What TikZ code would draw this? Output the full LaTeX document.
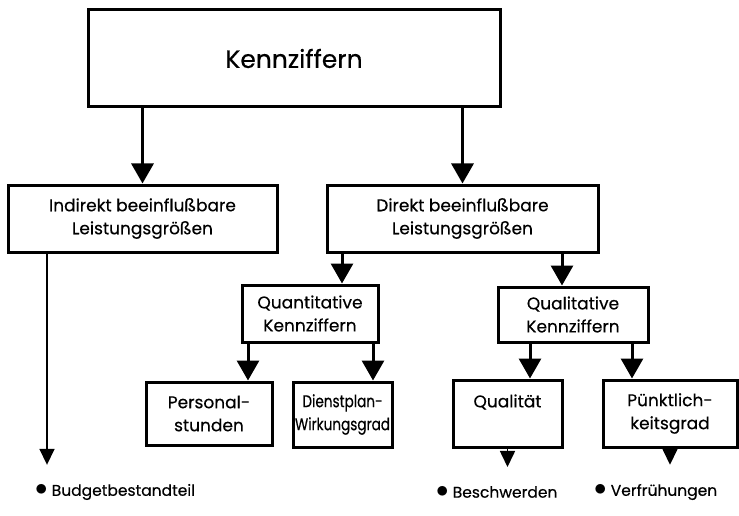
\documentclass[tikz,border=0pt]{standalone}
\usepackage{fontspec}
\setmainfont{Poppins}[FakeBold=0.4]
\usepackage{tikz}
\usetikzlibrary{arrows,arrows.meta,shapes,backgrounds}

\begin{document}
\begin{tikzpicture}[x=1pt,y=-1pt,
	kbox/.style={rectangle, draw=black, line width=3pt, text centered, align=center,
		inner sep=0pt, font=\fontsize{17}{23}\selectfont},
	bigarrow/.style={-{Triangle[width=22pt,length=20pt]}, line width=3pt},
	thinarrow/.style={-{Triangle[width=15pt,length=16pt]}, line width=1.6pt},
	item/.style={anchor=west, inner sep=0pt, font=\fontsize{15.5}{20}\selectfont}]

\useasboundingbox (0,0) rectangle (739,516);

%  top level
\node [kbox, minimum width=412pt, minimum height=97pt,
                        font=\fontsize{25}{30}\selectfont] (kenn) at (294,58.5) {Kennziffern};
\node [kbox, minimum width=269pt, minimum height=67pt] (indirekt) at (142.5,218.5) {Indirekt beeinflußbare\\ Leistungsgrößen};
\node [kbox, minimum width=271pt, minimum height=67pt] (direkt) at (462.5,218.5) {Direkt beeinflußbare\\ Leistungsgrößen};

%  second level
\node [kbox, minimum width=136pt, minimum height=57pt] (quant) at (310,313.5) {Quantitative\\ Kennziffern};
\node [kbox, minimum width=150pt, minimum height=55pt] (qual) at (573,314.5) {Qualitative\\ Kennziffern};

%  third level
\node [kbox, minimum width=126pt, minimum height=63pt] (personal) at (209,413.5) {Personal-\\ stunden};
\node [kbox, minimum width=99pt, minimum height=65pt] (dienst) at (342.5,414.5) {\scalebox{0.8}[1]{Dienstplan-}\\ \scalebox{0.8}[1]{Wirkungsgrad}};
\node [kbox, minimum width=109pt, minimum height=67pt] (qualitaet) at (507.5,413.5) {Qualität\\ \phantom{Q}};
\node [kbox, minimum width=134pt, minimum height=67pt] (puenkt) at (670,413.5) {Pünktlich-\\ keitsgrad};

%  items
\node [item] (budget) at (35,492) {{\fontsize{24}{24}\selectfont$\bullet$} Budgetbestandteil};
\node [item] (beschw) at (436,492) {{\fontsize{24}{24}\selectfont$\bullet$} Beschwerden};
\node [item] (verfr) at (594,492) {{\fontsize{24}{24}\selectfont$\bullet$} Verfrühungen};

\draw [bigarrow] (kenn.south -| indirekt.north) to (indirekt.north);
\draw [bigarrow] (kenn.south -| direkt.north) to (direkt.north);
\draw [bigarrow] (direkt.south -| 342,0) to (quant.north -| 342,0);
\draw [bigarrow] (direkt.south -| 562,0) to (qual.north -| 562,0);
\draw [bigarrow] (quant.south -| 248,0) to (personal.north -| 248,0);
\draw [bigarrow] (quant.south -| 373,0) to (dienst.north -| 373,0);
\draw [bigarrow] (qual.south -| 530,0) to (qualitaet.north -| 530,0);
\draw [bigarrow] (qual.south -| 632,0) to (puenkt.north -| 632,0);

\draw [thinarrow, shorten >=19pt] (indirekt.south -| 47,0) to ([xshift=12pt]budget.north west);
\draw [thinarrow, shorten >=19pt] (qualitaet.south) to (qualitaet.south |- beschw.north);
\draw [thinarrow, shorten >=19pt] (puenkt.south) to (puenkt.south |- verfr.north);

\end{tikzpicture}
\end{document}
